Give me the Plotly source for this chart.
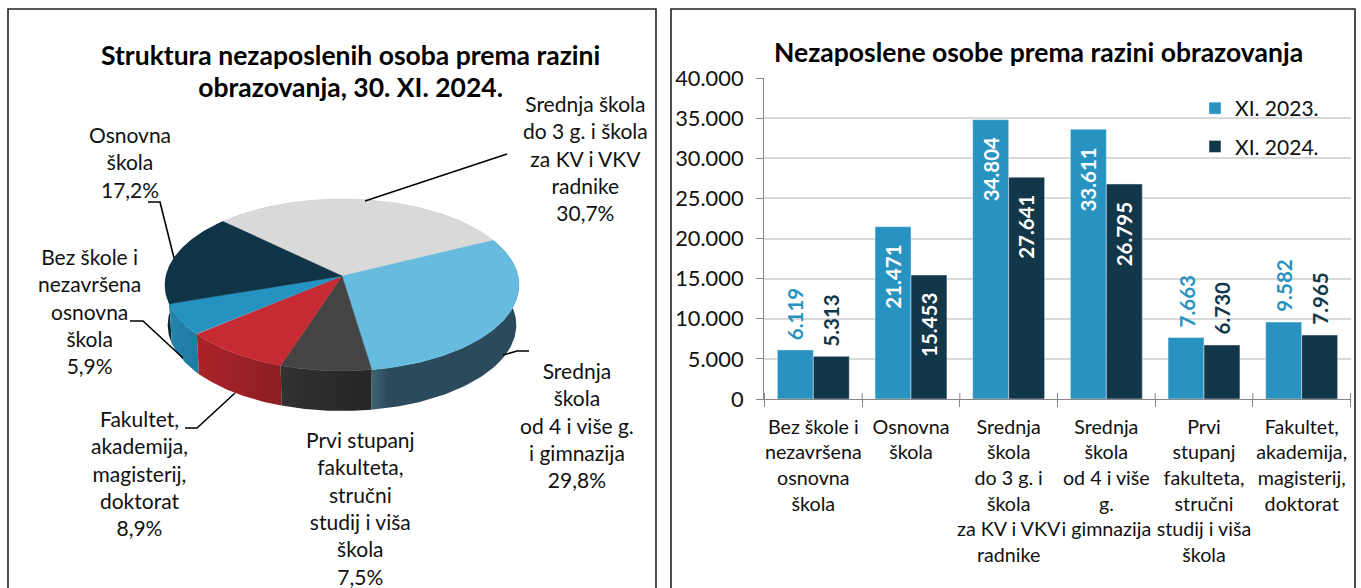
import numpy as np
import plotly.graph_objects as go

FONT = "Lato"
INK = "#111111"

# ---- data
pie_names = [
    ["Srednja škola", "do 3 g. i škola", "za KV i VKV", "radnike"],
    ["Srednja", "škola", "od 4 i više g.", "i gimnazija"],
    ["Prvi stupanj", "fakulteta,", "stručni", "studij i viša", "škola"],
    ["Fakultet,", "akademija,", "magisterij,", "doktorat"],
    ["Bez škole i", "nezavršena", "osnovna", "škola"],
    ["Osnovna", "škola"],
]
pie_shares = [30.7, 29.8, 7.5, 8.9, 5.9, 17.2]
pie_top_colors = ["#d9d9d9", "#66bbdf", "#444444", "#c62a33", "#2593c0", "#0f3446"]
pie_wall_colors = [
    [[0, "#a8a8a8"], [1, "#a8a8a8"]],
    [[0, "#3d6475"], [0.12, "#2b4b5c"], [1, "#2b4b5c"]],
    [[0, "#323232"], [1, "#252525"]],
    [[0, "#ac2329"], [1, "#8b1e22"]],
    [[0, "#2585ad"], [1, "#1f7aa0"]],
    [[0, "#0b2835"], [1, "#0b2835"]],
]
pie_label_pos = [(585, 105), (577, 372), (360, 441), (139, 420), (89, 258), (130, 136)]
leaders = [
    [(365, 201), (507, 154)],
    [(503, 355), (517, 351), (529, 351)],
    None,
    [(235, 393), (197, 428), (185, 428)],
    [(183, 358), (143, 321), (130, 321)],
    [(174, 258), (160, 202), (148, 202)],
]

bar_categories = [
    "Bez škole i<br>nezavršena<br>osnovna<br>škola",
    "Osnovna<br>škola",
    "Srednja<br>škola<br>do 3 g. i<br>škola<br>za KV i VKV<br>radnike",
    "Srednja<br>škola<br>od 4 i više<br>g.<br>i gimnazija",
    "Prvi<br>stupanj<br>fakulteta,<br>stručni<br>studij i viša<br>škola",
    "Fakultet,<br>akademija,<br>magisterij,<br>doktorat",
]
values_2023 = [6119, 21471, 34804, 33611, 7663, 9582]
values_2024 = [5313, 15453, 27641, 26795, 6730, 7965]
COL_2023 = "#2893c0"
COL_2024 = "#123748"


def dots(v):
    return f"{v:,}".replace(",", ".")


# ---- projected pie geometry
CX, CY, A, B, P = 342, 276, 176, 85, 0.1047
DEPTH = 40
START = -46.5


def rim(t):
    th = np.radians(t)
    X, Y = np.sin(th), np.cos(th)
    w = 1 + P * Y
    return CX + A * X / w, CY - B * Y / w


fig = go.Figure()
edges = START + np.cumsum([0] + pie_shares) * 3.6
order = sorted(range(6), key=lambda i: np.cos(np.radians((edges[i] + edges[i + 1]) / 2)), reverse=True)
for i in order:
    t = np.linspace(edges[i], edges[i + 1], 80)
    x, y = rim(t)
    xl = CX + (x - CX) * 0.985
    yl = y + DEPTH
    fig.add_trace(go.Scatter(
        x=np.r_[x, xl[::-1]], y=np.r_[y, yl[::-1]], mode="lines", line=dict(width=0),
        fill="toself", fillgradient=dict(type="horizontal", colorscale=pie_wall_colors[i]),
        hoverinfo="skip", showlegend=False, xaxis="x", yaxis="y"))
for i in range(6):
    t = np.linspace(edges[i], edges[i + 1], 80)
    x, y = rim(t)
    fig.add_trace(go.Scatter(
        x=np.r_[CX, x, CX], y=np.r_[CY, y, CY], mode="lines",
        line=dict(width=0.5, color=pie_top_colors[i]),
        fill="toself", fillcolor=pie_top_colors[i],
        hoverinfo="skip", showlegend=False, xaxis="x", yaxis="y"))
for seg in leaders:
    if seg:
        fig.add_trace(go.Scatter(
            x=[p[0] for p in seg], y=[p[1] for p in seg], mode="lines",
            line=dict(color="#000000", width=1.6),
            hoverinfo="skip", showlegend=False, xaxis="x", yaxis="y"))

# ---- bars
fig.add_trace(go.Bar(x=bar_categories, y=values_2023, name="XI. 2023.", marker_color=COL_2023,
                     xaxis="x2", yaxis="y2", legendgroup="a", hoverinfo="skip"))
fig.add_trace(go.Bar(x=bar_categories, y=values_2024, name="XI. 2024.", marker_color=COL_2024,
                     xaxis="x2", yaxis="y2", legendgroup="b", hoverinfo="skip"))

ann = []
for parts, share, (px, py) in zip(pie_names, pie_shares, pie_label_pos):
    txt = "<br>".join(parts + [f"{share:.1f}%".replace(".", ",")])
    ann.append(dict(x=px, y=py - 16, xref="x", yref="y", text=txt, showarrow=False, xanchor="center",
                    yanchor="top", align="center", font=dict(family=FONT, size=21, color=INK)))
T1 = "<span style='font-size:26.5px'><b>Struktura nezaposlenih osoba prema razini</b></span><br>" \
     "<span style='font-size:26.5px'><b>obrazovanja, 30. XI. 2024.</b></span>"
ann.append(dict(x=350, y=37, xref="x", yref="y", showarrow=False, xanchor="center", yanchor="top", align="center",
                text=T1, font=dict(family=FONT, size=24.6, color="#000000")))
ann.append(dict(x=1038, y=34, xref="x", yref="y", showarrow=False, xanchor="center", yanchor="top",
                text="<b>Nezaposlene osobe prema razini obrazovanja</b>",
                font=dict(family=FONT, size=26.5, color="#000000")))
for series, shift, col in ((values_2023, -18, COL_2023), (values_2024, 18, COL_2024)):
    for c, v in zip(bar_categories, series):
        inside = v > 12000
        ann.append(dict(x=c, y=v, xref="x2", yref="y2", xshift=shift, showarrow=False, textangle=-90,
                        text=f"<b>{dots(v)}</b>", xanchor="center",
                        yanchor="top" if inside else "bottom", yshift=-16 if inside else 8,
                        font=dict(family=FONT, size=20.5, color="#ffffff" if inside else col)))

shapes = [
    dict(type="rect", xref="x", yref="y", x0=8, x1=656, y0=9, y1=620, line=dict(color="#222222", width=1.6), layer="below"),
    dict(type="rect", xref="x", yref="y", x0=671, x1=1355, y0=9, y1=620, line=dict(color="#222222", width=1.6), layer="below"),
]
for k in range(len(bar_categories) + 1):
    shapes.append(dict(type="line", xref="x2", yref="y", x0=k - 0.5, x1=k - 0.5, y0=393, y1=399,
                       line=dict(color="#868686", width=1)))

fig.update_layout(
    width=1361, height=588, margin=dict(l=0, r=0, t=0, b=0, autoexpand=False),
    paper_bgcolor="#ffffff", plot_bgcolor="rgba(0,0,0,0)",
    font=dict(family=FONT, color=INK),
    separators=",.",
    barmode="group", bargap=0.264, bargroupgap=0,
    xaxis=dict(domain=[0, 1], range=[0, 1361], visible=False, fixedrange=True),
    yaxis=dict(domain=[0, 1], range=[588, 0], visible=False, fixedrange=True),
    xaxis2=dict(domain=[764 / 1361, 1351 / 1361], anchor="y2", type="category", tickson="boundaries",
                ticks="outside", ticklen=7, tickcolor="#868686", showline=True, linecolor="#868686",
                linewidth=1.2, showgrid=False, tickangle=0, tickfont=dict(family=FONT, size=19.7, color=INK),
                ticklabelstandoff=10),
    yaxis2=dict(domain=[(588 - 399) / 588, (588 - 78) / 588], anchor="x2", range=[0, 40000], dtick=5000,
                tickformat=",d", ticks="outside", ticklen=7, tickcolor="#868686", showline=True,
                linecolor="#868686", linewidth=1.2, gridcolor="#d9d9d9", gridwidth=1.5, zeroline=False,
                tickfont=dict(family=FONT, size=21.8, color=INK), ticklabelstandoff=8),
    legend=dict(x=1195 / 1361, y=(588 - 88) / 588, xanchor="left", yanchor="top", tracegroupgap=8,
                bgcolor="rgba(0,0,0,0)", font=dict(family=FONT, size=21, color=INK)),
    annotations=ann, shapes=shapes,
)
fig.write_html("out.html", post_script="document.body.style.margin='0';", config={"displayModeBar": False})
